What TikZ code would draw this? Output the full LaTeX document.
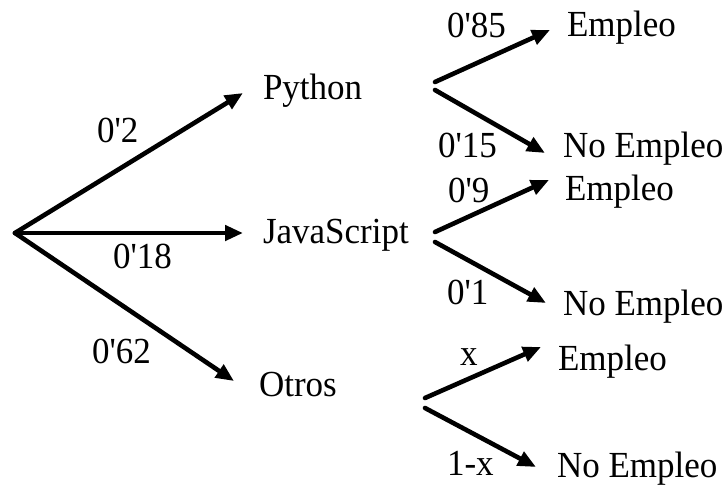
\documentclass[tikz,border=0pt]{standalone}
\usepackage{fontspec}
\setmainfont{Liberation Serif}
\usetikzlibrary{arrows.meta}
\begin{document}
\begin{tikzpicture}[x=1pt,y=-1pt,
  lbl/.style={anchor=base west,inner sep=0pt,outer sep=0pt,font=\fontsize{35}{40}\selectfont,transform shape,yscale=1.05},
  arr/.style={line width=4.6pt,line cap=round,-{Triangle[length=18pt,width=15pt]}}]
\useasboundingbox (0,0) rectangle (728,485);
% split points and arrow tips
\coordinate (root) at (15,233);
\coordinate (tpy) at (243,93);
\coordinate (tjs) at (243,233);
\coordinate (tot) at (234,381);
\coordinate (spA) at (435,82);
\coordinate (spB) at (435,90);
\coordinate (sjA) at (435,232);
\coordinate (sjB) at (435,242);
\coordinate (soA) at (425,398);
\coordinate (soB) at (425,408);
\coordinate (tpyE) at (550,30);
\coordinate (tpyN) at (545,153);
\coordinate (tjsE) at (549,180);
\coordinate (tjsN) at (546,303);
\coordinate (totE) at (541,347);
\coordinate (totN) at (536,467);
% texts
\node[lbl] (py) at (263,99) {Python};
\node[lbl] (js) at (263,243) {JavaScript};
\node[lbl] (ot) at (259,396) {Otros};
\node[lbl] (pyE) at (567,36) {Empleo};
\node[lbl] (pyN) at (563,157) {No Empleo};
\node[lbl] (jsE) at (565,200) {Empleo};
\node[lbl] (jsN) at (563,315) {No Empleo};
\node[lbl] (otE) at (558,370) {Empleo};
\node[lbl] (otN) at (557,477) {No Empleo};
% probabilities
\node[lbl] (p1) at (97,142) {0\textquotesingle 2};
\node[lbl] (p2) at (113,268) {0\textquotesingle 18};
\node[lbl] (p3) at (92,363) {0\textquotesingle 62};
\node[lbl] (q1) at (447,37) {0\textquotesingle 85};
\node[lbl] (q2) at (438,157) {0\textquotesingle 15};
\node[lbl] (q3) at (448,202) {0\textquotesingle 9};
\node[lbl] (q4) at (447,304) {0\textquotesingle 1};
\node[lbl] (q5) at (460,365) {x};
\node[lbl] (q6) at (447,475) {1-x};
% arrows
\draw[arr] (root) -- (tpy);
\draw[arr] (root) -- (tjs);
\draw[arr] (root) -- (tot);
\draw[arr] (spA) -- (tpyE);
\draw[arr] (spB) -- (tpyN);
\draw[arr] (sjA) -- (tjsE);
\draw[arr] (sjB) -- (tjsN);
\draw[arr] (soA) -- (totE);
\draw[arr] (soB) -- (totN);
\end{tikzpicture}
\end{document}
